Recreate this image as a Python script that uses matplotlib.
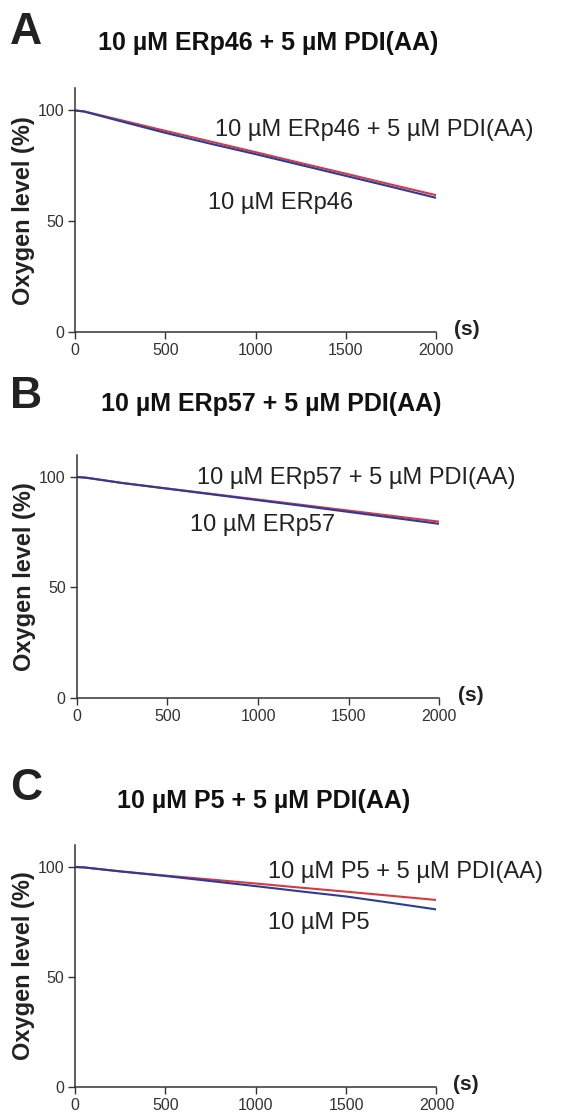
import matplotlib
matplotlib.use("Agg")
import matplotlib.pyplot as plt
import numpy as np

plt.rcParams['font.family'] = ['Liberation Sans', 'DejaVu Sans']

# time points (s)
time_s = [0, 50, 250, 500, 750, 1000, 1250, 1500, 1750, 2000]

# panel A: ERp46
erp46_pdi = [100, 99.6, 95.7, 90.8, 86.0, 81.2, 76.3, 71.5, 66.6, 61.8]
erp46 = [100, 99.5, 95.2, 89.9, 85.0, 80.3, 75.4, 70.5, 65.6, 60.6]

# panel B: ERp57
erp57_pdi = [100, 99.7, 97.3, 94.8, 92.3, 89.8, 87.3, 84.8, 82.3, 79.8]
erp57 = [100, 99.7, 97.3, 94.7, 92.1, 89.5, 86.9, 84.2, 81.5, 78.8]

# panel C: P5
p5_pdi = [100, 99.8, 98.0, 96.1, 94.3, 92.5, 90.6, 88.8, 86.9, 85.0]
p5 = [100, 99.8, 98.0, 95.9, 93.6, 91.3, 88.9, 86.6, 83.7, 80.7]

panels = [
    ("A", "10 µM ERp46 + 5 µM PDI(AA)", erp46_pdi, erp46,
     "10 µM ERp46 + 5 µM PDI(AA)", "10 µM ERp46"),
    ("B", "10 µM ERp57 + 5 µM PDI(AA)", erp57_pdi, erp57,
     "10 µM ERp57 + 5 µM PDI(AA)", "10 µM ERp57"),
    ("C", "10 µM P5 + 5 µM PDI(AA)", p5_pdi, p5,
     "10 µM P5 + 5 µM PDI(AA)", "10 µM P5"),
]

# axes boxes in figure fractions [left, bottom, width, height]
boxes = [
    [0.134, 0.703, 0.643, 0.218],
    [0.137, 0.3757, 0.646, 0.2174],
    [0.134, 0.0277, 0.644, 0.2165],
]
# label positions (data coords): upper and lower labels
label_pos = [
    ((774, 91.0), (734, 58.2)),
    ((661, 99.5), (622, 78.3)),
    ((1069, 97.7), (1069, 74.5)),
]
letter_y = [0.9705, 0.6452, 0.2947]
title_x = [0.478, 0.4843, 0.4707]
title_y = [0.9615, 0.6386, 0.2835]
s_x = [1.050, 1.051, 1.045]

fig = plt.figure(figsize=(5.61, 11.18), dpi=100)

for i, (letter, title, red, blue, lab_top, lab_bot) in enumerate(panels):
    ax = fig.add_axes(boxes[i])
    ax.plot(time_s, red, color="#d8393f", lw=1.5)
    ax.plot(time_s, blue, color="#2b3b9c", lw=1.5)
    ax.set_xlim(0, 2000)
    ax.set_ylim(0, 110)
    ax.set_xticks([0, 500, 1000, 1500, 2000])
    ax.set_yticks([0, 50, 100])
    ax.spines['top'].set_visible(False)
    ax.spines['right'].set_visible(False)
    ax.spines['left'].set_linewidth(1.1)
    ax.spines['bottom'].set_linewidth(1.1)
    ax.spines['left'].set_color("#333333")
    ax.spines['bottom'].set_color("#333333")
    ax.tick_params(direction='out', length=5, width=1, labelsize=11.5, pad=3,
                   color="#333333", labelcolor="#333333")
    ax.set_ylabel("Oxygen level (%)", fontsize=17, fontweight='bold', labelpad=2,
                  color="#222222")
    ax.text(s_x[i], 0.01, "(s)", transform=ax.transAxes, fontsize=15,
            fontweight='bold', ha='left', va='center', color="#222222")
    ax.text(label_pos[i][0][0], label_pos[i][0][1], lab_top, fontsize=17,
            ha='left', va='center', clip_on=False, color="#222222")
    ax.text(label_pos[i][1][0], label_pos[i][1][1], lab_bot, fontsize=17,
            ha='left', va='center', color="#222222")
    fig.text(0.018, letter_y[i], letter, fontsize=32, fontweight='bold',
             ha='left', va='center', color="#222222")
    fig.text(title_x[i], title_y[i], title, fontsize=18, fontweight='bold',
             ha='center', va='center', color="#111111")

fig.savefig("out.png", dpi=100)
